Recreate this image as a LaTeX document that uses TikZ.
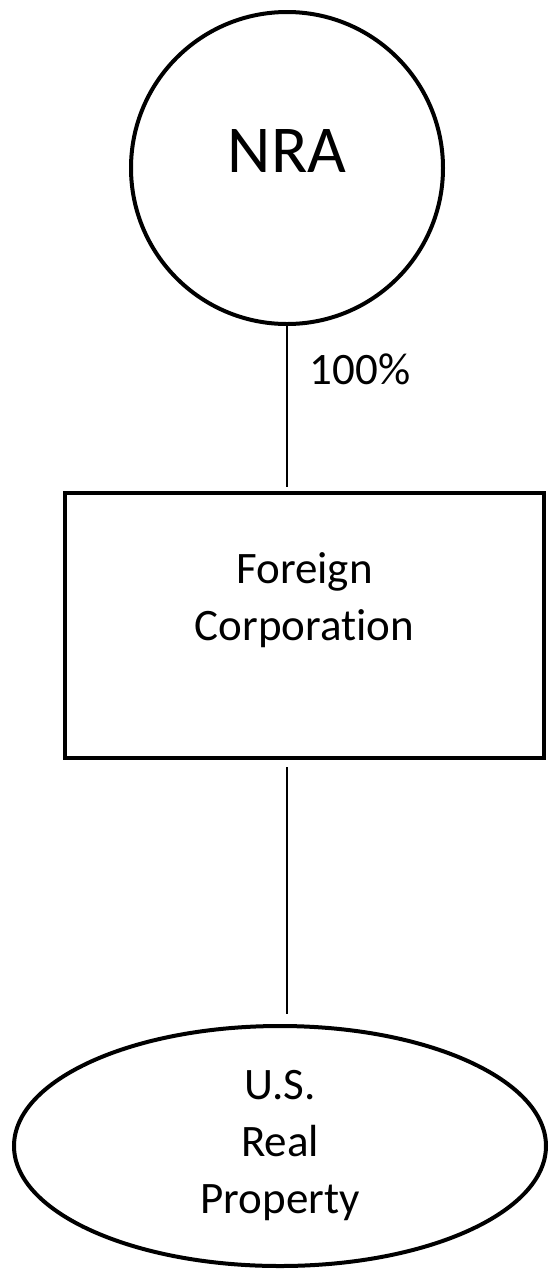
\documentclass[tikz,border=0pt]{standalone}
\usepackage{fontspec}
\setmainfont{Carlito}[Ligatures=NoCommon]
\usetikzlibrary{positioning,shapes.geometric}

\begin{document}
\begin{tikzpicture}[
    x=1pt, y=-1pt,
    font=\fontsize{45}{57}\selectfont,
    owner/.style={draw, circle, line width=4pt, inner sep=0pt, minimum size=312pt, font=\fontsize{67}{80}\selectfont, text height=43pt, text depth=35pt},
    entity/.style={draw, rectangle, line width=4pt, inner sep=0pt, minimum width=479pt, minimum height=265pt, align=center},
    asset/.style={draw, ellipse, line width=4pt, inner sep=0pt, minimum width=532pt, minimum height=240pt, align=center},
    link/.style={line width=1.3pt},
    share/.style={inner sep=0pt, anchor=west}
  ]
    \useasboundingbox (0,0) rectangle (549,1270);

    \node[owner] (nra) at (287,168) {NRA};
    \node[entity] (corp) at (304.5,625.5) {Foreign\\Corporation\\\mbox{}};
    \node[asset] (prop) at (280,1146) {U.S.\\Real\\Property};

    \draw[link, shorten >=4pt] (nra.south) -- (nra.south |- corp.north)
      node[share, pos=0.26, right=22pt] (pct) {100\%};
    \draw[link, shorten <=7pt, shorten >=10pt] (nra.south |- corp.south) -- (nra.south |- prop.north);
  \end{tikzpicture}
\end{document}
